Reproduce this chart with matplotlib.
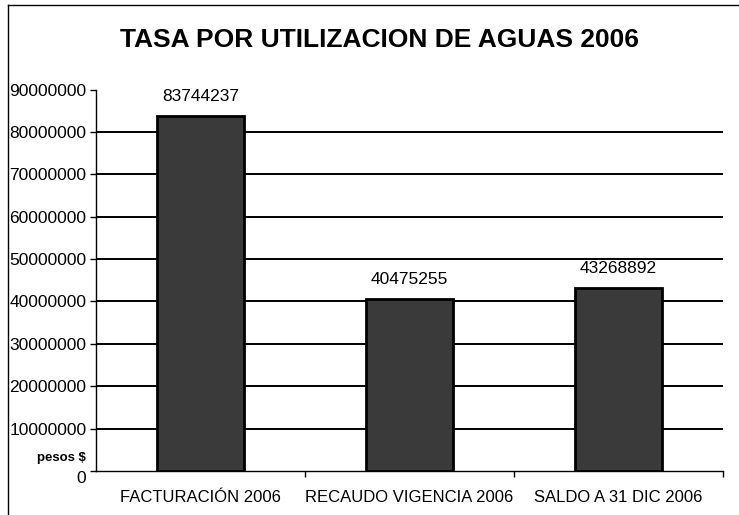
import matplotlib.pyplot as plt
from matplotlib.lines import Line2D
import numpy as np

plt.rcParams['font.family'] = ['Liberation Sans', 'DejaVu Sans']

categorias = ['FACTURACIÓN 2006', 'RECAUDO VIGENCIA 2006', 'SALDO A 31 DIC 2006']
valores = [83744237, 40475255, 43268892]
y_ticks = [0, 10000000, 20000000, 30000000, 40000000, 50000000,
           60000000, 70000000, 80000000, 90000000]


def tasa_graph():
    fig = plt.figure(figsize=(7.39, 5.15), dpi=100)
    ax = fig.add_axes([0.130, 0.0854, 0.848, 0.7408])

    x = np.arange(len(categorias))
    ax.bar(x, valores, width=0.415, color='#3a3a3a', edgecolor='black',
           linewidth=2, zorder=3)

    for xi, v in zip(x, valores):
        ax.annotate(str(v), (xi, v), xytext=(0, 14), textcoords='offset points',
                    ha='center', va='center', fontsize=12.5)

    # gridlines (none at the top value)
    for t in y_ticks[1:-1]:
        ax.axhline(t, color='black', linewidth=1.4, zorder=1)

    ax.set_xlim(-0.5, len(categorias) - 0.5)
    ax.set_ylim(0, y_ticks[-1])
    ax.set_yticks(y_ticks)
    ax.set_yticklabels([str(t) for t in y_ticks], fontsize=12.5)
    ax.tick_params(axis='y', direction='out', length=4, width=1, pad=3)

    ax.set_xticks(x)
    ax.set_xticklabels(categorias, fontsize=12)
    ax.tick_params(axis='x', which='major', length=0, pad=14)
    ax.set_xticks([0.5, 1.5, 2.5], minor=True)
    ax.tick_params(axis='x', which='minor', direction='out', length=4, width=1)

    for s in ['top', 'right']:
        ax.spines[s].set_visible(False)
    ax.spines['left'].set_linewidth(1)
    ax.spines['bottom'].set_linewidth(1)

    # "0" label is drawn slightly lower with the unit above it
    ax.get_yticklabels()[0].set_verticalalignment('top')
    ax.text(-0.017, 0.018, 'pesos $', transform=ax.transAxes, ha='right',
            va='bottom', fontsize=9.5, fontweight='bold')

    fig.text(0.514, 0.922, 'TASA POR UTILIZACION DE AGUAS 2006', ha='center',
             va='center', fontsize=19, fontweight='bold')

    # outer frame lines
    fig.add_artist(Line2D([0.011, 0.011], [0.0, 0.99], color='black', linewidth=1))
    fig.add_artist(Line2D([0.011, 1.0], [0.99, 0.99], color='black', linewidth=1))

    fig.savefig('out.png', dpi=100)


tasa_graph()
